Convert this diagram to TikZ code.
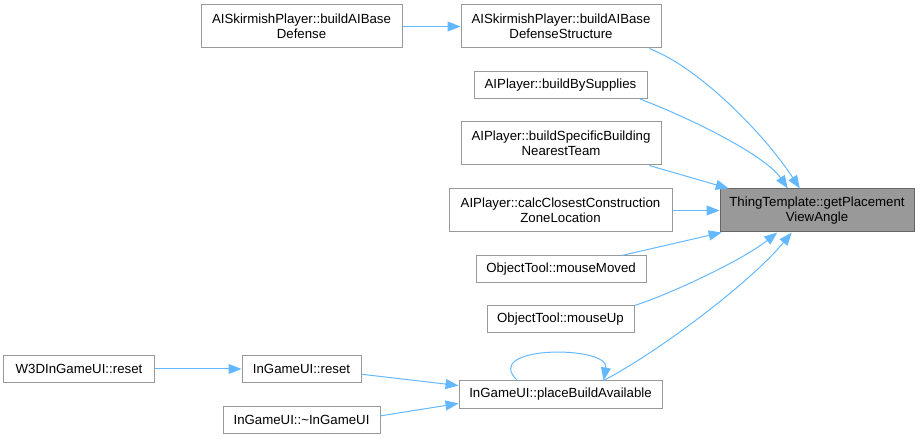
\documentclass[tikz,border=0pt]{standalone}
\usepackage{fontspec}
\setmainfont{Liberation Sans}
\usepackage{xcolor}
\usepackage{tikz}
\usetikzlibrary{arrows.meta}
\definecolor{edgeblue}{HTML}{63B8FF}
\definecolor{boxline}{HTML}{999999}
\definecolor{hitfill}{HTML}{999999}
\definecolor{hitline}{HTML}{666666}

\begin{document}
\begin{tikzpicture}[x=1bp, y=-1bp,
    every node/.style={font=\fontsize{13.3}{15.5}\selectfont},
    >={Triangle[length=13bp,width=10bp]},
    fnbox/.style={draw=boxline, fill=white, line width=1bp, inner sep=0pt,
      align=center, minimum height=27bp},
    fnboxtwo/.style={fnbox, minimum height=43bp},
    hitbox/.style={fnboxtwo, fill=hitfill, draw=hitline},
    call/.style={->, draw=edgeblue, line width=1bp}]
  \useasboundingbox (0,0) rectangle (920,439);
  \node[hitbox, minimum width=194bp] (tpl) at (817,210.5) {ThingTemplate::getPlacement\\ViewAngle};
  \node[fnboxtwo, minimum width=201bp] (baseDef) at (301.5,26.5) {AISkirmishPlayer::buildAIBase\\Defense};
  \node[fnboxtwo, minimum width=200bp] (baseDefStr) at (561,26.5) {AISkirmishPlayer::buildAIBase\\DefenseStructure};
  \node[fnbox, minimum width=173bp] (bySup) at (560.5,85) {AIPlayer::buildBySupplies};
  \node[fnboxtwo, minimum width=200bp] (specBld) at (561,143.5) {AIPlayer::buildSpecificBuilding\\NearestTeam};
  \node[fnboxtwo, minimum width=223bp] (closest) at (560.5,210.5) {AIPlayer::calcClosestConstruction\\ZoneLocation};
  \node[fnbox, minimum width=170bp] (moved) at (561,269.5) {ObjectTool::mouseMoved};
  \node[fnbox, minimum width=147bp] (up) at (560.5,319.5) {ObjectTool::mouseUp};
  \node[fnbox, minimum width=150bp] (wreset) at (79,369) {W3DInGameUI::reset};
  \node[fnbox, minimum width=119bp] (reset) at (301.5,369) {InGameUI::reset};
  \node[fnbox, minimum width=203bp] (place) at (560.5,394.5) {InGameUI::placeBuildAvailable};
  \node[fnbox, minimum width=157bp] (dtor) at (301.5,420) {InGameUI::\textasciitilde InGameUI};

  \draw[call] (baseDef) -- (baseDefStr);
  \draw[call] (baseDefStr.-14) .. controls (700,68) and (765,135) .. (tpl.128);
  \draw[call] (bySup.-10) .. controls (690,118) and (765,155) .. (tpl.143);
  \draw[call] (specBld.-14) -- (tpl.166);
  \draw[call] (closest) -- (tpl);
  \draw[call] (moved.13) -- (tpl.193);
  \draw[call] (up.north east) .. controls (665,296) and (740,262) .. (tpl.209);
  \draw[call] (place.18) .. controls (660,351) and (752,281) .. (tpl.221);
  \draw[call] (place.162) .. controls (480,345) and (610,345) .. (place.18);
  \draw[call] (wreset) -- (reset);
  \draw[call] (reset.-5) -- (place.175);
  \draw[call] (dtor.3) -- (place.185);
\end{tikzpicture}
\end{document}
